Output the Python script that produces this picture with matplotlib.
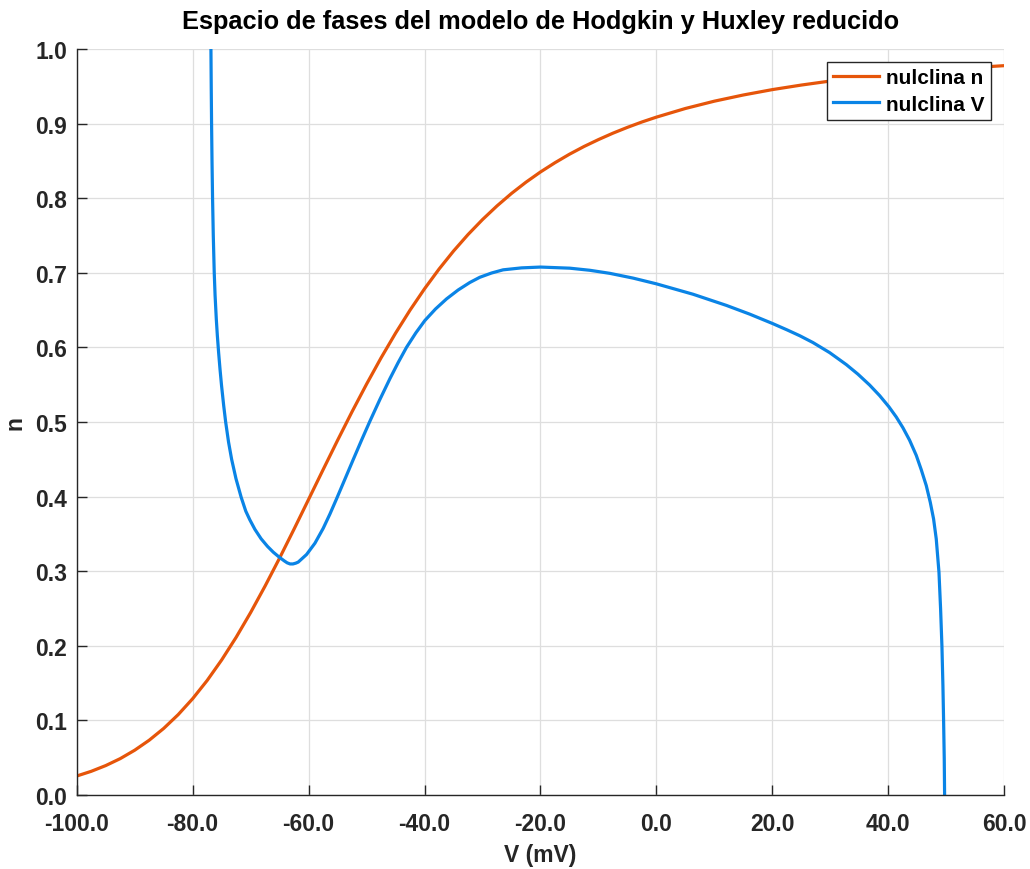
import matplotlib
matplotlib.use("Agg")
import matplotlib.pyplot as plt
from matplotlib.ticker import FormatStrFormatter, MultipleLocator

plt.rcParams['font.family'] = ['Liberation Sans', 'DejaVu Sans']
plt.rcParams['font.weight'] = 'bold'

# n-nullcline: steady-state potassium activation n_inf(V)
v_n = [-100, -97.5, -95, -92.5, -90, -87.5, -85, -82.5, -80, -77.5, -75,
       -72.5, -70, -67.5, -65, -62.5, -60, -57.5, -55, -52.5, -50, -47.5,
       -45, -42.5, -40, -37.5, -35, -32.5, -30, -27.5, -25, -22.5, -20,
       -17.5, -15, -12.5, -10, -7.5, -5, -2.5, 0, 5, 10, 15, 20, 25, 30, 35,
       40, 45, 50, 55, 60]
n_n = [0.0254, 0.0317, 0.0394, 0.0487, 0.0600, 0.0734, 0.0892, 0.1077,
       0.1291, 0.1535, 0.1810, 0.2114, 0.2446, 0.2802, 0.3177, 0.3566,
       0.3963, 0.4361, 0.4755, 0.5139, 0.5508, 0.5860, 0.6191, 0.6500,
       0.6786, 0.7050, 0.7292, 0.7513, 0.7714, 0.7897, 0.8064, 0.8215,
       0.8352, 0.8476, 0.8590, 0.8693, 0.8786, 0.8872, 0.8950, 0.9022,
       0.9087, 0.9203, 0.9301, 0.9384, 0.9456, 0.9517, 0.9571, 0.9617,
       0.9658, 0.9694, 0.9725, 0.9753, 0.9777]

# V-nullcline of the reduced model
v_v = [-76.85, -76.80, -76.74, -76.665, -76.57, -76.445, -76.28, -76.136,
       -75.925, -75.745, -75.524, -75.286, -75.022, -74.65, -74.31, -73.81,
       -73.28, -72.53, -71.63, -70.84, -70.15, -69.26, -68.20, -67.10,
       -66.10, -65.10, -64.20, -63.70, -63.20, -62.70, -62.20, -61.79,
       -60.35, -58.91, -57.48, -56.33, -55.18, -53.74, -52.30, -50.87,
       -49.43, -47.71, -45.98, -44.55, -43.11, -41.50, -39.95, -38.11,
       -36.21, -34.20, -32.19, -30.47, -28.45, -26.44, -23.28, -20.00,
       -14.94, -11.50, -8.05, -4.03, 0.00, 6.30, 12.07, 16.09, 20.00, 22.50,
       24.71, 27.00, 29.88, 32.76, 34.76, 36.77, 38.50, 40.10, 41.37, 42.52,
       43.67, 44.82, 45.68, 46.55, 47.24, 47.81, 48.27, 48.74, 49.02, 49.25,
       49.42, 49.54, 49.65, 49.71]
n_v = [1.000, 0.950, 0.900, 0.850, 0.800, 0.750, 0.700, 0.670,
       0.638, 0.616, 0.593, 0.571, 0.549, 0.522, 0.500, 0.473,
       0.450, 0.424, 0.399, 0.3805, 0.3690, 0.3560, 0.3435, 0.3333,
       0.3255, 0.3190, 0.3138, 0.3112, 0.3097, 0.3097, 0.3108, 0.3122,
       0.3224, 0.3375, 0.3575, 0.3765, 0.3970, 0.4233, 0.4497, 0.4756,
       0.5010, 0.5301, 0.5580, 0.5797, 0.6001, 0.6195, 0.6360, 0.6515,
       0.6650, 0.6770, 0.6870, 0.6940, 0.6997, 0.7040, 0.7066, 0.7077,
       0.7062, 0.7034, 0.6993, 0.6929, 0.6852, 0.6713, 0.6563, 0.6446, 0.6321,
       0.6236, 0.6157, 0.6065, 0.5930, 0.5769, 0.5641, 0.5496, 0.5354, 0.5204,
       0.5067, 0.4923, 0.4756, 0.4553, 0.4361, 0.4147, 0.3923, 0.3700, 0.3432,
       0.2985, 0.2493, 0.1994, 0.1466, 0.0988, 0.0483, 0.0000]

fig = plt.figure(figsize=(10.3, 8.7), dpi=100)
ax = fig.add_axes([0.0745, 0.0851, 0.9005, 0.8574])

ax.plot(v_n, n_n, color='#E6550A', lw=2.3, label='nulclina n',
        solid_joinstyle='round')
ax.plot(v_v, n_v, color='#0A84E6', lw=2.3, label='nulclina V',
        solid_joinstyle='round')

ax.set_xlim(-100, 60)
ax.set_ylim(0, 1)
ax.xaxis.set_major_locator(MultipleLocator(20))
ax.yaxis.set_major_locator(MultipleLocator(0.1))
ax.xaxis.set_major_formatter(FormatStrFormatter('%.1f'))
ax.yaxis.set_major_formatter(FormatStrFormatter('%.1f'))

ax.grid(True, color='#DEDEDE', lw=0.9)
ax.set_axisbelow(True)
for s in ('top', 'right'):
    ax.spines[s].set_visible(False)
for s in ('left', 'bottom'):
    ax.spines[s].set_color('#262626')
    ax.spines[s].set_linewidth(1.0)
ax.tick_params(direction='in', length=7, width=1.0, colors='#262626',
               labelsize=16.5)
ax.tick_params(axis='x', pad=12)
ax.tick_params(axis='y', pad=7)
for lbl in ax.get_xticklabels() + ax.get_yticklabels():
    lbl.set_fontweight('bold')

ax.set_title('Espacio de fases del modelo de Hodgkin y Huxley reducido',
             fontsize=18.3, fontweight='bold', pad=15)
ax.set_xlabel('V (mV)', fontsize=16.5, fontweight='bold', color='#262626',
              labelpad=6)
ax.set_ylabel('n', fontsize=16.5, fontweight='bold', color='#262626',
              labelpad=6)

leg = ax.legend(loc='upper right', bbox_to_anchor=(0.9857, 0.9826),
                borderaxespad=0, fancybox=False, framealpha=1,
                edgecolor='#262626', prop={'size': 15, 'weight': 'bold'},
                handlelength=2.2, handletextpad=0.35, borderpad=0.3,
                labelspacing=0.35)
leg.get_frame().set_linewidth(1.0)

fig.savefig('out.png', dpi=100)
